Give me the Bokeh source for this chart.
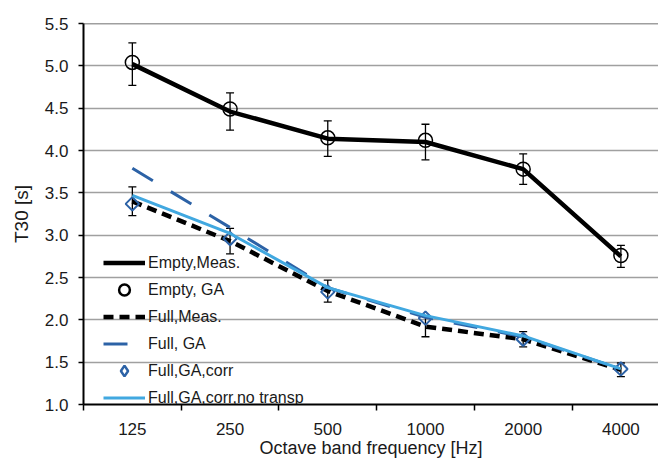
import math
from bokeh.plotting import figure
from bokeh.models import (Range1d, FixedTicker, NumeralTickFormatter, Span, Whisker,
                          ColumnDataSource, Legend, LegendItem)
from bokeh.embed import file_html
from bokeh.resources import INLINE

categories = ["125", "250", "500", "1000", "2000", "4000"]
empty_meas = [5.02, 4.46, 4.14, 4.10, 3.78, 2.75]
empty_meas_err = [0.25, 0.22, 0.21, 0.21, 0.18, 0.13]
empty_ga = [5.04, 4.49, 4.15, 4.12, 3.78, 2.76]
full_meas = [3.40, 2.93, 2.34, 1.92, 1.77, 1.41]
full_meas_err = [0.17, 0.15, 0.13, 0.12, 0.09, 0.08]
full_ga = [3.79, 3.09, 2.38, 2.03, 1.80, 1.42]
full_ga_corr = [3.37, 2.96, 2.33, 2.02, 1.77, 1.42]
full_ga_corr_nt = [3.47, 3.02, 2.38, 2.05, 1.81, 1.42]

FONT = "Liberation Sans"
xpos = [i + 0.5 for i in range(len(categories))]

p = figure(width=658, height=460, output_backend="svg", toolbar_location=None,
           x_range=Range1d(0, 5.885), y_range=Range1d(1.0, 5.5),
           min_border_left=83, min_border_right=0, min_border_top=23, min_border_bottom=55)
p.outline_line_color = None
p.background_fill_color = "white"
p.border_fill_color = "white"

# grid
p.xgrid.grid_line_color = None
p.ygrid.grid_line_color = "#a0a0a0"
p.ygrid.grid_line_width = 1.5
p.ygrid.ticker = FixedTicker(ticks=[1.0 + 0.5 * i for i in range(10)])
p.add_layout(Span(location=5.5, dimension="width", line_color="#404040", line_width=1.5))

# y axis
p.yaxis.ticker = FixedTicker(ticks=[1.0 + 0.5 * i for i in range(10)])
p.yaxis.formatter = NumeralTickFormatter(format="0.0")
p.yaxis.axis_label = "T30 [s]"
p.yaxis.axis_line_color = "black"
p.yaxis.axis_line_width = 2
p.yaxis.major_tick_out = 5
p.yaxis.major_tick_in = 0
p.yaxis.major_tick_line_color = "black"
p.yaxis.major_tick_line_width = 1.5
p.yaxis.minor_tick_line_color = None
p.yaxis.major_label_standoff = 10
p.yaxis.axis_label_standoff = 10

# x axis
p.xaxis.ticker = FixedTicker(ticks=xpos, minor_ticks=[0, 1, 2, 3, 4, 5])
p.xaxis.major_label_overrides = {x: c for x, c in zip(xpos, categories)}
p.xaxis.axis_label = "Octave band frequency [Hz]"
p.xaxis.axis_line_color = "black"
p.xaxis.axis_line_width = 2
p.xaxis.major_tick_line_color = None
p.xaxis.major_tick_out = 0
p.xaxis.major_tick_in = 0
p.xaxis.minor_tick_line_color = "black"
p.xaxis.minor_tick_line_width = 1.5
p.xaxis.minor_tick_out = 6
p.xaxis.minor_tick_in = 0
p.xaxis.major_label_standoff = 12
p.xaxis.axis_label_standoff = 0

for ax in (p.xaxis, p.yaxis):
    ax.major_label_text_font = FONT
    ax.major_label_text_font_size = "17px"
    ax.major_label_text_color = "#1a1a1a"
    ax.axis_label_text_font = FONT
    ax.axis_label_text_font_style = "normal"
    ax.axis_label_text_color = "#1a1a1a"
p.xaxis.axis_label_text_font_size = "18px"
p.yaxis.axis_label_text_font_size = "19px"

src = ColumnDataSource(dict(
    x=xpos,
    em=empty_meas,
    em_lo=[v - e for v, e in zip(empty_meas, empty_meas_err)],
    em_hi=[v + e for v, e in zip(empty_meas, empty_meas_err)],
    eg=empty_ga,
    fm=full_meas,
    fm_lo=[v - e for v, e in zip(full_meas, full_meas_err)],
    fm_hi=[v + e for v, e in zip(full_meas, full_meas_err)],
    fg=full_ga,
    fgc=full_ga_corr,
    fgn=full_ga_corr_nt,
))

BLUE = "#2c62a6"
r1 = p.line("x", "em", source=src, line_color="black", line_width=4.5)
r2 = p.scatter("x", "eg", source=src, marker="circle", size=14, fill_color=None,
               line_color="black", line_width=1.5)
r3 = p.line("x", "fm", source=src, line_color="black", line_width=4.5, line_dash="10 6")
r4 = p.line("x", "fg", source=src, line_color=BLUE, line_width=3, line_dash="24 21")
r5 = p.scatter("x", "fgc", source=src, marker="square", angle=math.pi / 4, size=9.5,
               fill_color=None, line_color=BLUE, line_width=2)
r6 = p.line("x", "fgn", source=src, line_color="#41a8e0", line_width=3)
# legend glyphs: zero-size on the chart, sized by the legend box
r2l = p.scatter("x", "eg", source=src, marker="circle", size=0, fill_color=None,
                line_color="black", line_width=2.5)
r5l = p.scatter("x", "fgc", source=src, marker="diamond", size=0, fill_color=None,
                line_color=BLUE, line_width=2.5)

for lo, hi in (("em_lo", "em_hi"), ("fm_lo", "fm_hi")):
    w = Whisker(source=src, base="x", lower=lo, upper=hi, line_color="black", line_width=1.3)
    w.upper_head.size = 8
    w.lower_head.size = 8
    w.upper_head.line_width = 1.3
    w.lower_head.line_width = 1.3
    p.add_layout(w)

legend = Legend(items=[
    LegendItem(label="Empty,Meas.", renderers=[r1]),
    LegendItem(label="Empty, GA", renderers=[r2l]),
    LegendItem(label="Full,Meas.", renderers=[r3]),
    LegendItem(label="Full, GA", renderers=[r4]),
    LegendItem(label="Full,GA,corr", renderers=[r5l]),
    LegendItem(label="Full,GA,corr,no transp", renderers=[r6]),
], location=(20, -7))
legend.background_fill_alpha = 0
legend.border_line_color = None
legend.padding = 0
legend.margin = 0
legend.spacing = 0
legend.glyph_width = 42
legend.glyph_height = 27
legend.label_height = 27
legend.label_standoff = 3
legend.label_text_font = FONT
legend.label_text_font_size = "16px"
legend.label_text_color = "#1a1a1a"
p.add_layout(legend)

open("out.html", "w").write(file_html(p, INLINE))
